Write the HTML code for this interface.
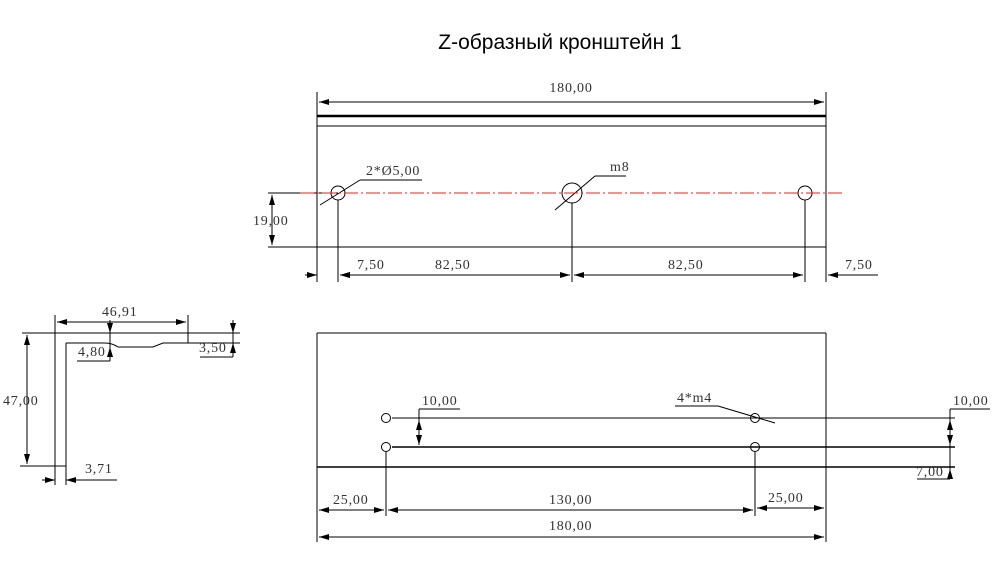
<!DOCTYPE html>
<html><head><meta charset="utf-8"><style>
html,body{margin:0;padding:0;background:#fff;}
svg{display:block}
.t{font-family:"Liberation Serif",serif;font-size:14px;letter-spacing:0.8px;fill:#333}
</style></head><body>
<svg width="1000" height="567" viewBox="0 0 1000 567" xmlns="http://www.w3.org/2000/svg">
<defs>
<marker id="a" viewBox="0 0 10 6" refX="10" refY="3" markerWidth="10" markerHeight="6" orient="auto-start-reverse" markerUnits="userSpaceOnUse"><path d="M0,0L10,3L0,6z" fill="#000"/></marker>
</defs>
<text x="560" y="49" text-anchor="middle" font-family="Liberation Sans, sans-serif" font-size="21" fill="#000">Z-образный кронштейн 1</text>
<g stroke="#000" stroke-width="1" fill="none">
<line x1="317" y1="92" x2="317" y2="282"/>
<line x1="826" y1="92" x2="826" y2="282"/>
<line x1="317" y1="116" x2="826" y2="116" stroke-width="2.5"/>
<line x1="317" y1="126" x2="826" y2="126"/>
<line x1="268" y1="247" x2="826" y2="247"/>
<line x1="268" y1="193" x2="338" y2="193"/>
<line x1="319" y1="102" x2="824" y2="102" marker-start="url(#a)" marker-end="url(#a)"/>
<line x1="272" y1="195" x2="272" y2="245" marker-start="url(#a)" marker-end="url(#a)"/>
<circle cx="338" cy="193" r="7"/>
<circle cx="572" cy="193" r="10"/>
<circle cx="805" cy="193" r="7"/>
<line x1="338" y1="200" x2="338" y2="282"/>
<line x1="572" y1="203" x2="572" y2="282"/>
<line x1="805" y1="200" x2="805" y2="282"/>
<line x1="305" y1="275" x2="317" y2="275" marker-end="url(#a)"/>
<line x1="340" y1="275" x2="390" y2="275" marker-start="url(#a)"/>
<line x1="340" y1="275" x2="570" y2="275" marker-start="url(#a)" marker-end="url(#a)"/>
<line x1="574" y1="275" x2="803" y2="275" marker-start="url(#a)" marker-end="url(#a)"/>
<line x1="828" y1="275" x2="878" y2="275" marker-start="url(#a)"/>
<line x1="320" y1="205" x2="360" y2="180"/>
<line x1="360" y1="180" x2="422" y2="180"/>
<line x1="555" y1="210" x2="595" y2="176"/>
<line x1="595" y1="176" x2="626" y2="176"/>
<line x1="22" y1="333" x2="240" y2="333"/>
<line x1="55" y1="315" x2="55" y2="485"/>
<line x1="66" y1="343" x2="66" y2="485"/>
<line x1="20" y1="466" x2="66" y2="466"/>
<path d="M66,343 L105,343 Q112,343 118,347 L153,347 L163,343 L240,343"/>
<line x1="188" y1="315" x2="188" y2="343"/>
<line x1="57" y1="322" x2="186" y2="322" marker-start="url(#a)" marker-end="url(#a)"/>
<line x1="27" y1="335" x2="27" y2="464" marker-start="url(#a)" marker-end="url(#a)"/>
<line x1="110" y1="320" x2="110" y2="361"/>
<line x1="110" y1="323" x2="110" y2="333" marker-end="url(#a)"/>
<line x1="110" y1="357" x2="110" y2="347" marker-end="url(#a)"/>
<line x1="77" y1="361" x2="110" y2="361"/>
<line x1="233" y1="320" x2="233" y2="357"/>
<line x1="233" y1="323" x2="233" y2="333" marker-end="url(#a)"/>
<line x1="233" y1="353" x2="233" y2="343" marker-end="url(#a)"/>
<line x1="200" y1="357" x2="233" y2="357"/>
<line x1="42" y1="480" x2="55" y2="480" marker-end="url(#a)"/>
<line x1="78" y1="480" x2="66" y2="480" marker-end="url(#a)"/>
<line x1="66" y1="480" x2="117" y2="480"/>
<line x1="317" y1="333" x2="826" y2="333"/>
<line x1="317" y1="333" x2="317" y2="542"/>
<line x1="826" y1="333" x2="826" y2="542"/>
<line x1="392" y1="418" x2="955" y2="418"/>
<line x1="392" y1="447" x2="955" y2="447" stroke-width="1.5"/>
<line x1="317" y1="467" x2="955" y2="467" stroke-width="1.5"/>
<circle cx="386" cy="418" r="4.5"/>
<circle cx="386" cy="447" r="4.5"/>
<circle cx="755" cy="418" r="4.5"/>
<circle cx="755" cy="447" r="4.5"/>
<line x1="386" y1="452" x2="386" y2="516"/>
<line x1="755" y1="452" x2="755" y2="516"/>
<line x1="319" y1="510" x2="384" y2="510" marker-start="url(#a)" marker-end="url(#a)"/>
<line x1="388" y1="510" x2="753" y2="510" marker-start="url(#a)" marker-end="url(#a)"/>
<line x1="757" y1="508" x2="824" y2="508" marker-start="url(#a)" marker-end="url(#a)"/>
<line x1="319" y1="537" x2="824" y2="537" marker-start="url(#a)" marker-end="url(#a)"/>
<line x1="419" y1="420" x2="419" y2="445" marker-start="url(#a)" marker-end="url(#a)"/>
<line x1="419" y1="409" x2="419" y2="420"/>
<line x1="419" y1="409" x2="460" y2="409"/>
<line x1="675" y1="406" x2="718" y2="406"/>
<line x1="718" y1="406" x2="775" y2="423"/>
<line x1="950" y1="409" x2="950" y2="479"/>
<line x1="950" y1="420" x2="950" y2="445" marker-start="url(#a)" marker-end="url(#a)"/>
<line x1="950" y1="477" x2="950" y2="469" marker-end="url(#a)"/>
<line x1="950" y1="409" x2="990" y2="409"/>
<line x1="917" y1="479" x2="950" y2="479"/>
</g>
<line x1="300" y1="193" x2="845" y2="193" stroke="#e22" stroke-width="1" stroke-dasharray="14,3,2,3"/>
<g class="t">
<text x="571" y="92" text-anchor="middle">180,00</text>
<text x="366" y="175">2*Ø5,00</text>
<text x="610" y="171">m8</text>
<text x="253" y="225">19,00</text>
<text x="357" y="269">7,50</text>
<text x="435" y="269">82,50</text>
<text x="668" y="269">82,50</text>
<text x="845" y="269">7,50</text>
<text x="102" y="316">46,91</text>
<text x="78" y="356">4,80</text>
<text x="199" y="352">3,50</text>
<text x="3" y="405">47,00</text>
<text x="85" y="473">3,71</text>
<text x="422" y="405">10,00</text>
<text x="677" y="402">4*m4</text>
<text x="953" y="405">10,00</text>
<text x="916" y="476">7,00</text>
<text x="333" y="504">25,00</text>
<text x="549" y="504">130,00</text>
<text x="768" y="502">25,00</text>
<text x="549" y="530">180,00</text>
</g>
</svg>
</body></html>
